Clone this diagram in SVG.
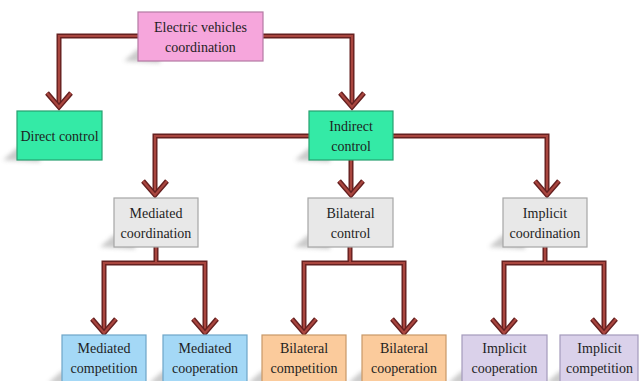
<svg xmlns="http://www.w3.org/2000/svg" xmlns:xlink="http://www.w3.org/1999/xlink" width="640" height="381" viewBox="0 0 640 381" font-family="'Liberation Serif', 'Times New Roman', Tinos, 'DejaVu Serif', serif">
<style>
  text { font-family: 'Liberation Serif', 'Times New Roman', Tinos, 'DejaVu Serif', serif; font-size: 14px; fill: #1e1e1e; text-anchor: middle; }
  .box { stroke-width: 1.2; }
  .pink { fill: #f6a6dc; stroke: #b47aa3; }
  .green { fill: #34eaa6; stroke: #27a070; }
  .gray { fill: #e8e8e8; stroke: #a6a6a6; }
  .blue { fill: #a4d8f6; stroke: #6ea6c8; }
  .orange { fill: #fbcb9c; stroke: #c89868; }
  .purple { fill: #dad1ea; stroke: #a49abb; }
  .shadow { fill: #8a8a8a; opacity: 0.45; filter: url(#blur); }
  .lo { fill: none; stroke: #652020; stroke-width: 5; stroke-linejoin: miter; stroke-linecap: butt; }
  .li { fill: none; stroke: #a9463f; stroke-width: 2.2; stroke-linejoin: miter; stroke-linecap: butt; }
</style>
<defs>
  <filter id="blur" x="-50%" y="-50%" width="200%" height="200%"><feGaussianBlur stdDeviation="2"/></filter>
  <g id="chev">
    <path class="lo" d="M-12,-15 L0,-1 L12,-15"/>
    <path class="li" d="M-12,-15 L0,-1 L12,-15"/>
  </g>
</defs>

<g id="shadows">
  <polygon class="shadow" points="124,61 138,49 160,49 160,63"/>
  <polygon class="shadow" points="3,160 17,148 40,148 40,162"/>
  <polygon class="shadow" points="295,160 309,148 330,148 330,162"/>
  <polygon class="shadow" points="100,247 114,235 135,235 135,249"/>
  <polygon class="shadow" points="294,247 308,235 330,235 330,249"/>
  <polygon class="shadow" points="489,247 503,235 525,235 525,249"/>
  <polygon class="shadow" points="48,383 62,371 85,371 85,385"/>
  <polygon class="shadow" points="149,383 163,371 185,371 185,385"/>
  <polygon class="shadow" points="248,383 262,371 285,371 285,385"/>
  <polygon class="shadow" points="348,383 362,371 385,371 385,385"/>
  <polygon class="shadow" points="448,383 462,371 485,371 485,385"/>
  <polygon class="shadow" points="546,383 560,371 583,371 583,385"/>
</g>

<g id="connectors">
  <path class="lo" d="M138,36 H59 V106 M263,36 H352 V106 M309,136 H155 V194 M351,160 V194 M393,136 H547 V194 M156,247 V263 M104,332 V263 H205 V332 M350,247 V263 M304,332 V263 H404 V332 M545,247 V263 M504,332 V263 H604 V332"/>
  <path class="li" d="M138,36 H59 V106 M263,36 H352 V106 M309,136 H155 V194 M351,160 V194 M393,136 H547 V194 M156,247 V263 M104,332 V263 H205 V332 M350,247 V263 M304,332 V263 H404 V332 M545,247 V263 M504,332 V263 H604 V332"/>
  <use xlink:href="#chev" x="59" y="108"/>
  <use xlink:href="#chev" x="352" y="108"/>
  <use xlink:href="#chev" x="155" y="196"/>
  <use xlink:href="#chev" x="351" y="196"/>
  <use xlink:href="#chev" x="547" y="196"/>
  <use xlink:href="#chev" x="104" y="334"/>
  <use xlink:href="#chev" x="205" y="334"/>
  <use xlink:href="#chev" x="304" y="334"/>
  <use xlink:href="#chev" x="404" y="334"/>
  <use xlink:href="#chev" x="504" y="334"/>
  <use xlink:href="#chev" x="604" y="334"/>
</g>

<g id="root">
  <rect class="box pink" x="138" y="12" width="125" height="49"/>
  <text x="200.5" y="32">Electric vehicles</text>
  <text x="200.5" y="52">coordination</text>
</g>
<g id="direct-control">
  <rect class="box green" x="17" y="111" width="85" height="49"/>
  <text x="59.5" y="141">Direct control</text>
</g>
<g id="indirect-control">
  <rect class="box green" x="309" y="111" width="84" height="49"/>
  <text x="351" y="131">Indirect</text>
  <text x="351" y="151">control</text>
</g>
<g id="mediated-coordination">
  <rect class="box gray" x="114" y="198" width="84" height="49"/>
  <text x="156" y="218">Mediated</text>
  <text x="156" y="238">coordination</text>
</g>
<g id="bilateral-control">
  <rect class="box gray" x="308" y="198" width="85" height="49"/>
  <text x="350.5" y="218">Bilateral</text>
  <text x="350.5" y="238">control</text>
</g>
<g id="implicit-coordination">
  <rect class="box gray" x="503" y="198" width="84" height="49"/>
  <text x="545" y="218">Implicit</text>
  <text x="545" y="238">coordination</text>
</g>
<g id="mediated-competition">
  <rect class="box blue" x="62" y="335" width="84" height="50"/>
  <text x="104" y="353">Mediated</text>
  <text x="104" y="373">competition</text>
</g>
<g id="mediated-cooperation">
  <rect class="box blue" x="163" y="335" width="84" height="50"/>
  <text x="205" y="353">Mediated</text>
  <text x="205" y="373">cooperation</text>
</g>
<g id="bilateral-competition">
  <rect class="box orange" x="262" y="335" width="84" height="50"/>
  <text x="304" y="353">Bilateral</text>
  <text x="304" y="373">competition</text>
</g>
<g id="bilateral-cooperation">
  <rect class="box orange" x="362" y="335" width="84" height="50"/>
  <text x="404" y="353">Bilateral</text>
  <text x="404" y="373">cooperation</text>
</g>
<g id="implicit-cooperation">
  <rect class="box purple" x="462" y="335" width="85" height="50"/>
  <text x="504.5" y="353">Implicit</text>
  <text x="504.5" y="373">cooperation</text>
</g>
<g id="implicit-competition">
  <rect class="box purple" x="560" y="335" width="78" height="50"/>
  <text x="599.5" y="353">Implicit</text>
  <text x="599.5" y="373">competition</text>
</g>
</svg>
